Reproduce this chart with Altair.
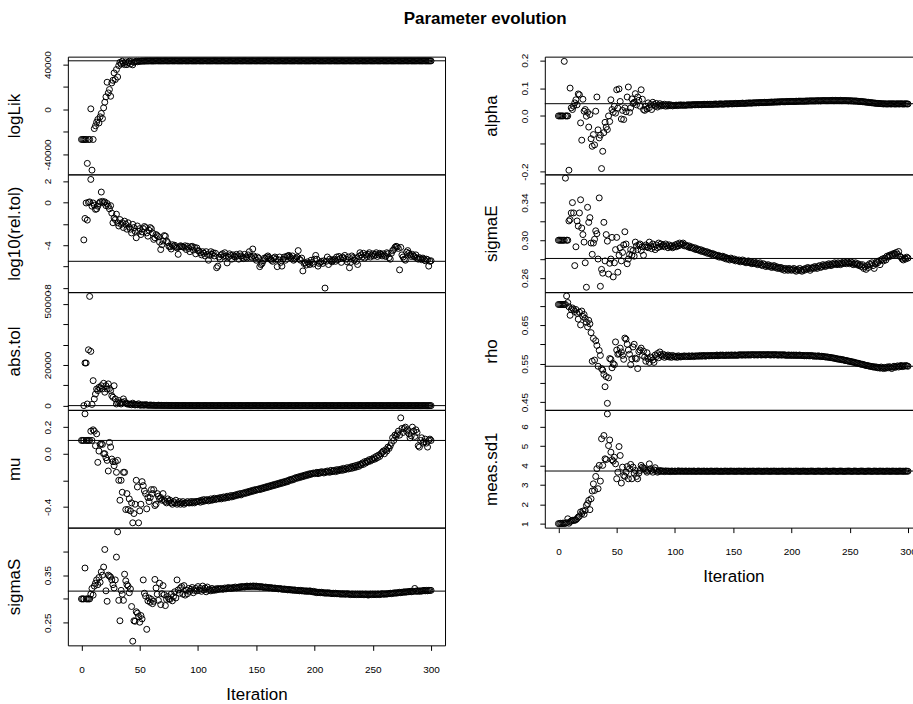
import altair as alt
import pandas as pd

FONT = "Liberation Sans"
TITLE = "Parameter evolution"
X_TITLE = "Iteration"
X_TICKS = [0, 50, 100, 150, 200, 250, 300]

# ---------------- data, index = iteration ----------------
loglik_start = 0
loglik = [
    -26700, -26700, -26700, -26700, -26700, -48000, -26700, -26700, 600, -54000,
    -26700, -17000, -14500, -11300, -8900, -12000, -6500, -3500, -8000, 1500,
    6500, 11300, 24300, 14800, 17800, 11800, 23700, 26000, 32600, 26700,
    35600, 29000, 39100, 42000, 40500, 43000, 41500, 40000, 42500, 40000,
    41800, 43000, 40500, 42800, 39800, 42000, 42600, 43000, 42500, 43000,
    42900, 43100, 43200, 43100, 43200, 43200, 43300, 43200, 43300, 43300,
    43300, 43200, 43300, 43300, 43300, 43400, 43300, 43300, 43300, 43300,
    43300, 43300, 43400, 43300, 43300, 43300, 43300, 43400, 43300, 43300,
    43300, 43400, 43300, 43300, 43300, 43300, 43300, 43300, 43400, 43300,
    43300, 43300, 43300, 43400, 43300, 43300, 43300, 43300, 43300, 43300,
    43400, 43300, 43300, 43300, 43300, 43300, 43400, 43300, 43300, 43300,
    43300, 43300, 43300, 43300, 43400, 43300, 43300, 43300, 43300, 43300,
    43300, 43400, 43300, 43300, 43300, 43300, 43300, 43300, 43400, 43300,
    43300, 43300, 43300, 43300, 43300, 43400, 43300, 43300, 43300, 43300,
    43400, 43300, 43300, 43300, 43300, 43300, 43300, 43400, 43300, 43300,
    43300, 43300, 43400, 43300, 43300, 43300, 43300, 43300, 43300, 43400,
    43300, 43300, 43300, 43300, 43400, 43300, 43300, 43300, 43300, 43300,
    43300, 43400, 43300, 43300, 43300, 43300, 43300, 43400, 43300, 43300,
    43300, 43300, 43300, 43300, 43400, 43300, 43300, 43300, 43300, 43300,
    43400, 43300, 43300, 43300, 43300, 43300, 43300, 43300, 43400, 43300,
    43300, 43300, 43400, 43300, 43300, 43300, 43300, 43300, 43300, 43300,
    43300, 43400, 43300, 43300, 43300, 43300, 43400, 43300, 43300, 43300,
    43300, 43300, 43300, 43400, 43300, 43300, 43300, 43300, 43300, 43400,
    43300, 43300, 43300, 43300, 43300, 43400, 43300, 43300, 43300, 43300,
    43400, 43300, 43300, 43300, 43300, 43300, 43300, 43400, 43300, 43300,
    43300, 43300, 43300, 43400, 43300, 43300, 43300, 43300, 43400, 43300,
    43300, 43300, 43300, 43300, 43300, 43400, 43300, 43300, 43300, 43300,
    43300, 43400, 43300, 43300, 43300, 43300, 43300, 43300, 43400, 43300,
    43300, 43300, 43400, 43300, 43300, 43300, 43300, 43300, 43300, 43400,
    43300, 43300, 43300, 43300, 43400, 43300, 43300, 43300, 43300, 43300,
    43300,
]

reltol_start = 2
log10_reltol = [
    -3.5, -1.5, -0.05, -1.65, 0.0, 0.05, 2.15, -0.35, -0.05, -0.25,
    -0.65, -0.6, -0.35, -0.1, 0.05, 0.97, 0.1, -0.05, 0.05, -0.3,
    -0.1, -0.35, -0.6, -0.3, -1.0, -1.9, -1.45, -1.6, -1.1, -1.9,
    -2.2, -1.6, -2.05, -1.9, -2.35, -1.75, -2.05, -2.5, -1.9, -2.3,
    -2.5, -2.85, -2.05, -2.35, -2.7, -3.3, -2.2, -2.7, -2.45, -3.0,
    -2.75, -2.45, -2.25, -2.35, -2.85, -3.15, -2.6, -2.35, -2.45, -2.85,
    -3.45, -3.3, -3.0, -3.1, -3.2, -3.7, -4.4, -3.95, -3.6, -3.1,
    -3.15, -3.6, -3.75, -4.1, -4.15, -4.35, -3.95, -4.1, -4.0, -4.15,
    -4.25, -4.85, -4.15, -4.05, -4.1, -4.15, -4.2, -4.05, -4.4, -4.1,
    -4.3, -4.6, -4.15, -4.1, -4.45, -4.2, -4.8, -4.25, -4.5,
    -4.55, -4.7, -4.9, -4.6, -4.75, -5.0, -4.6, -4.85, -5.4, -4.95,
    -4.6, -4.85, -4.7, -5.0, -4.75, -6.1, -5.95, -5.1, -5.3, -4.9,
    -4.8, -5.05, -4.7, -5.0, -5.65, -5.1, -4.8, -4.95, -5.3, -4.9,
    -5.05, -5.1, -4.85, -5.0, -5.3, -4.8, -5.0, -5.15, -5.25, -4.85,
    -5.1, -5.2, -4.9, -4.6, -5.05, -5.15, -4.35, -5.0, -5.15, -5.4,
    -5.1, -5.2, -6.0, -5.8, -5.7, -5.45, -5.2, -5.25, -5.1, -5.0,
    -5.15, -5.3, -5.4, -5.5, -5.2, -5.1, -5.3, -6.0, -5.35, -5.1,
    -5.6, -5.95, -5.3, -5.1, -5.4, -5.05, -5.0, -4.95, -5.1, -5.2,
    -5.0, -5.4, -5.3, -5.2, -5.1, -4.5, -5.3, -5.4, -5.2, -6.4,
    -5.7, -5.65, -5.85, -5.55, -5.7, -5.8, -5.4, -5.6, -5.75, -5.3,
    -4.95, -5.3, -5.95, -5.7, -5.6, -5.5, -5.7, -5.45, -8.0, -5.5,
    -5.1, -5.8, -5.3, -5.45, -5.55, -5.4, -5.3, -5.5, -5.1, -5.35,
    -5.05, -5.25, -5.6, -5.1, -5.2, -4.95, -5.3, -5.55, -5.1, -6.1,
    -5.6, -5.0, -5.15, -5.4, -5.2, -5.5, -5.8, -5.05, -4.7, -4.9,
    -5.1, -4.75, -5.2, -4.9, -5.05, -4.85, -4.7, -5.1, -4.95, -4.8,
    -5.0, -4.85, -4.7, -5.05, -4.9, -4.75, -4.85, -5.0, -4.8, -4.95,
    -5.05, -4.7, -4.8, -5.15, -5.3, -4.75, -4.5, -4.4, -4.2, -4.1,
    -4.15, -4.3, -6.3, -4.2, -4.9, -5.1, -5.3, -5.4, -4.65, -4.5,
    -4.75, -4.9, -5.05, -4.85, -5.0, -5.1, -4.9, -5.2, -5.3, -5.15,
    -5.25, -5.35, -5.2, -5.3, -5.45, -5.3, -5.35, -5.95, -5.5, -5.45,
]

abstol_start = 2
abs_tol = [
    0, 21000, 21000, 800, 27500, 53800, 26700, 600, 12300, 3300,
    5700, 8200, 7400, 9000, 8400, 9800, 8200, 11000, 6600, 9800,
    8200, 10700, 8400, 7400, 4900, 4100, 9800, 3300, 800, 1600,
    2500, 1300, 800, 1600, 3300, 2000, 1300, 800, 900, 600,
    700, 400, 1200, 600, 300, 500, 400, 900, 300, 200,
    400, 300, 200, 500, 300, 200, 150, 300, 200, 100,
    200, 150, 100, 120, 200, 90, 80, 150, 100, 70,
    60, 90, 50, 70, 40, 60, 50, 40, 30, 50,
    40, 30, 40, 25, 30, 20, 30, 25, 20, 15,
    20, 15, 12, 18, 10, 14, 10, 12, 8,
    9, 7, 11, 6, 8, 5, 7, 9, 4, 6,
    5, 8, 4, 6, 7, 3, 5, 6, 4, 5,
    6, 4, 5, 3, 6, 4, 5, 7, 3, 4,
    5, 3, 4, 6, 3, 5, 4, 3, 5, 4,
    3, 5, 4, 3, 4, 5, 3, 4, 3, 5,
    4, 3, 4, 3, 5, 3, 4, 3, 4, 3,
    4, 3, 3, 4, 3, 4, 3, 3, 4, 3,
    3, 4, 3, 3, 4, 3, 3, 4, 3, 3,
    4, 3, 3, 3, 4, 3, 3, 4, 3, 3,
    3, 4, 3, 3, 3, 4, 3, 3, 3, 4,
    3, 3, 4, 3, 3, 3, 4, 3, 3, 3,
    4, 3, 3, 3, 4, 3, 3, 3, 3, 4,
    3, 3, 3, 4, 3, 3, 3, 4, 3, 3,
    3, 4, 3, 3, 3, 3, 4, 3, 3, 3,
    4, 3, 3, 3, 3, 4, 3, 3, 3, 3,
    3, 4, 3, 3, 3, 3, 4, 3, 3, 3,
    3, 3, 4, 3, 3, 3, 3, 4, 3, 3,
    3, 3, 3, 4, 3, 3, 3, 3, 4, 3,
    3, 3, 3, 3, 4, 3, 3, 3, 3, 4,
    3, 3, 3, 3, 3, 4, 3, 3, 3, 3,
]

mu_start = 0
mu = [
    0.1, 0.1, 0.1, 0.3, 0.1, 0.1, 0.1, 0.1, 0.17, 0.1,
    0.18, 0.17, 0.06, 0.15, -0.065, 0.02, 0.07, 0.075, 0.07, 0.0,
    0.0, -0.03, -0.05, -0.13, 0.085, 0.05, -0.04, -0.06, -0.09, -0.06,
    -0.14, -0.05, -0.2, -0.35, -0.2, -0.29, -0.14, -0.14, -0.42, -0.3,
    -0.42, -0.34, -0.43, -0.37, -0.52, -0.45, -0.38, -0.2, -0.25, -0.52,
    -0.43, -0.38, -0.21, -0.24, -0.28, -0.3, -0.415, -0.33, -0.36, -0.33,
    -0.27, -0.3, -0.27, -0.39, -0.38, -0.3, -0.32, -0.34, -0.33, -0.35,
    -0.3, -0.35, -0.36, -0.37, -0.34, -0.36, -0.35, -0.37, -0.38, -0.36,
    -0.37, -0.35, -0.38, -0.37, -0.36, -0.38, -0.37, -0.36, -0.38, -0.37,
    -0.37, -0.36, -0.37, -0.37, -0.36, -0.37, -0.36, -0.37, -0.36, -0.36,
    -0.36, -0.355, -0.365, -0.35, -0.36, -0.345, -0.355, -0.35, -0.345, -0.355,
    -0.35, -0.34, -0.35, -0.345, -0.335, -0.345, -0.34, -0.335, -0.34, -0.33,
    -0.34, -0.33, -0.325, -0.335, -0.33, -0.32, -0.33, -0.325, -0.315, -0.325,
    -0.315, -0.32, -0.31, -0.315, -0.305, -0.31, -0.3, -0.31, -0.3, -0.295,
    -0.3, -0.29, -0.295, -0.285, -0.29, -0.28, -0.285, -0.275, -0.28, -0.27,
    -0.275, -0.27, -0.265, -0.27, -0.26, -0.265, -0.255, -0.26, -0.25, -0.255,
    -0.245, -0.25, -0.24, -0.245, -0.235, -0.24, -0.23, -0.235, -0.225, -0.23,
    -0.22, -0.225, -0.215, -0.22, -0.21, -0.215, -0.205, -0.21, -0.2, -0.195,
    -0.2, -0.19, -0.195, -0.185, -0.18, -0.185, -0.175, -0.18, -0.17, -0.175,
    -0.165, -0.17, -0.16, -0.165, -0.155, -0.16, -0.15, -0.155, -0.15, -0.145,
    -0.15, -0.145, -0.14, -0.15, -0.14, -0.145, -0.135, -0.14, -0.145, -0.135,
    -0.14, -0.13, -0.135, -0.14, -0.125, -0.135, -0.13, -0.125, -0.135, -0.12,
    -0.13, -0.12, -0.125, -0.115, -0.125, -0.11, -0.12, -0.115, -0.105, -0.115,
    -0.11, -0.1, -0.11, -0.095, -0.105, -0.09, -0.1, -0.085, -0.095, -0.08,
    -0.085, -0.07, -0.08, -0.06, -0.07, -0.055, -0.06, -0.045, -0.055, -0.04,
    -0.045, -0.03, -0.04, -0.02, -0.03, -0.01, -0.02, 0.0, 0.01, 0.02,
    0.0, 0.03, 0.02, 0.05, 0.04, 0.06, 0.08, 0.12, 0.1, 0.14,
    0.13, 0.15, 0.17, 0.14, 0.27, 0.19, 0.16, 0.19, 0.2, 0.17,
    0.18, 0.15, 0.12, 0.135, 0.2, 0.17, 0.13, 0.18, 0.16, 0.06,
    0.05, 0.1, 0.12, 0.08, 0.09, 0.11, 0.08, 0.05, 0.1, 0.11,
    0.1,
]

sigmaS_start = 0
sigmaS = [
    0.3, 0.3, 0.3, 0.365, 0.3, 0.3, 0.3, 0.3, 0.31, 0.322,
    0.308, 0.327, 0.333, 0.34, 0.33, 0.345, 0.335, 0.357, 0.35, 0.367,
    0.404, 0.317, 0.295, 0.35, 0.348, 0.346, 0.34, 0.33, 0.323, 0.34,
    0.388, 0.441, 0.297, 0.254, 0.318, 0.31, 0.297, 0.352, 0.338, 0.33,
    0.327, 0.313, 0.321, 0.284, 0.211, 0.254, 0.253, 0.273, 0.27, 0.263,
    0.251, 0.265, 0.258, 0.34, 0.312, 0.306, 0.236, 0.296, 0.302, 0.293,
    0.299, 0.29, 0.295, 0.341, 0.323, 0.31, 0.297, 0.333, 0.288, 0.311,
    0.328, 0.309, 0.286, 0.299, 0.305, 0.3, 0.299, 0.31, 0.296, 0.305,
    0.315, 0.302, 0.34, 0.319, 0.312, 0.323, 0.326, 0.31, 0.328, 0.308,
    0.318, 0.311, 0.322, 0.316, 0.32, 0.324, 0.313, 0.318, 0.322, 0.317,
    0.326, 0.318, 0.322, 0.316, 0.327, 0.319, 0.323, 0.315, 0.325, 0.318,
    0.32, 0.317, 0.322, 0.319, 0.318, 0.321, 0.319, 0.322, 0.32, 0.321,
    0.322, 0.32, 0.321, 0.323, 0.321, 0.322, 0.324, 0.322, 0.323, 0.322,
    0.324, 0.323, 0.325, 0.323, 0.324, 0.325, 0.324, 0.326, 0.325, 0.326,
    0.325, 0.326, 0.327, 0.326, 0.326, 0.327, 0.326, 0.327, 0.327, 0.326,
    0.327, 0.326, 0.326, 0.325, 0.326, 0.325, 0.325, 0.324, 0.325, 0.324,
    0.324, 0.323, 0.324, 0.323, 0.323, 0.322, 0.323, 0.322, 0.322, 0.321,
    0.322, 0.321, 0.321, 0.32, 0.321, 0.32, 0.32, 0.319, 0.32, 0.319,
    0.319, 0.319, 0.318, 0.319, 0.318, 0.318, 0.318, 0.317, 0.318, 0.317,
    0.317, 0.317, 0.316, 0.317, 0.316, 0.316, 0.317, 0.316, 0.315, 0.316,
    0.314, 0.315, 0.313, 0.314, 0.314, 0.313, 0.314, 0.313, 0.313, 0.312,
    0.313, 0.312, 0.313, 0.312, 0.312, 0.311, 0.312, 0.311, 0.312, 0.311,
    0.311, 0.311, 0.31, 0.311, 0.31, 0.311, 0.31, 0.31, 0.311, 0.31,
    0.31, 0.309, 0.31, 0.31, 0.309, 0.31, 0.309, 0.31, 0.309, 0.31,
    0.309, 0.31, 0.309, 0.309, 0.31, 0.309, 0.308, 0.309, 0.31, 0.309,
    0.31, 0.309, 0.31, 0.309, 0.31, 0.31, 0.309, 0.31, 0.311, 0.31,
    0.31, 0.311, 0.31, 0.311, 0.311, 0.312, 0.311, 0.312, 0.312, 0.313,
    0.312, 0.313, 0.313, 0.314, 0.313, 0.314, 0.314, 0.315, 0.314, 0.315,
    0.315, 0.315, 0.316, 0.315, 0.316, 0.316, 0.322, 0.316, 0.317, 0.316,
    0.317, 0.316, 0.317, 0.317, 0.318, 0.317, 0.318, 0.317, 0.318, 0.318,
    0.318,
]

alpha_start = 0
alpha_ = [
    0.0, 0.0, 0.0, 0.0, 0.0, 0.196, 0.0, 0.0, 0.0, -0.195,
    0.1, 0.029, 0.023, 0.035, 0.047, 0.058, 0.04, 0.079, 0.076, -0.025,
    -0.087, 0.06, 0.017, 0.023, -0.001, 0.013, -0.04, 0.005, -0.082, -0.109,
    -0.067, -0.104, 0.017, 0.068, -0.05, -0.079, -0.069, -0.189, -0.127, -0.06,
    -0.023, -0.04, -0.049, 0.0, -0.02, 0.058, 0.023, 0.013, 0.035, 0.01,
    0.094, 0.028, 0.097, 0.052, -0.011, 0.02, -0.013, 0.029, 0.015, 0.068,
    0.104, 0.013, 0.029, 0.061, 0.045, 0.049, 0.08, 0.04, 0.068, 0.056,
    0.035, 0.094, 0.06, 0.023, 0.02, 0.035, 0.025, 0.047, 0.03, 0.041,
    0.023, 0.049, 0.041, 0.035, 0.045, 0.032, 0.038, 0.044, 0.036, 0.04,
    0.037, 0.042, 0.035, 0.04, 0.036, 0.041, 0.037, 0.039, 0.036, 0.038,
    0.038, 0.039, 0.037, 0.039, 0.038, 0.04, 0.038, 0.039, 0.039, 0.038,
    0.039, 0.04, 0.039, 0.04, 0.039, 0.04, 0.041, 0.04, 0.04, 0.041,
    0.04, 0.041, 0.041, 0.04, 0.041, 0.042, 0.041, 0.041, 0.042, 0.041,
    0.042, 0.042, 0.041, 0.042, 0.042, 0.043, 0.042, 0.042, 0.043, 0.043,
    0.043, 0.042, 0.043, 0.043, 0.044, 0.043, 0.043, 0.044, 0.044, 0.043,
    0.044, 0.044, 0.045, 0.044, 0.044, 0.045, 0.045, 0.045, 0.046, 0.045,
    0.045, 0.046, 0.046, 0.046, 0.047, 0.046, 0.046, 0.047, 0.047, 0.047,
    0.047, 0.048, 0.047, 0.048, 0.048, 0.048, 0.048, 0.049, 0.048, 0.049,
    0.049, 0.049, 0.049, 0.05, 0.049, 0.05, 0.05, 0.05, 0.05, 0.051,
    0.05, 0.051, 0.051, 0.051, 0.051, 0.051, 0.052, 0.051, 0.052, 0.052,
    0.052, 0.052, 0.052, 0.052, 0.053, 0.052, 0.053, 0.053, 0.053, 0.053,
    0.053, 0.053, 0.053, 0.054, 0.053, 0.054, 0.054, 0.054, 0.054, 0.054,
    0.054, 0.054, 0.055, 0.054, 0.055, 0.054, 0.055, 0.055, 0.055, 0.055,
    0.055, 0.055, 0.055, 0.055, 0.055, 0.056, 0.055, 0.055, 0.056, 0.055,
    0.055, 0.055, 0.056, 0.055, 0.055, 0.055, 0.055, 0.055, 0.055, 0.054,
    0.055, 0.054, 0.054, 0.054, 0.053, 0.054, 0.053, 0.053, 0.052, 0.052,
    0.052, 0.051, 0.051, 0.05, 0.05, 0.049, 0.049, 0.048, 0.048, 0.047,
    0.047, 0.046, 0.046, 0.045, 0.045, 0.045, 0.044, 0.044, 0.044, 0.043,
    0.044, 0.043, 0.043, 0.043, 0.044, 0.043, 0.043, 0.044, 0.043, 0.043,
    0.043, 0.044, 0.043, 0.043, 0.044, 0.043, 0.043, 0.043, 0.044, 0.043,
    0.043,
]

sigmaE_start = 0
sigmaE = [
    0.3, 0.3, 0.3, 0.3, 0.3, 0.3, 0.366, 0.3, 0.3, 0.3205,
    0.322, 0.329, 0.34, 0.329, 0.273, 0.293, 0.3205, 0.315, 0.329, 0.343,
    0.313, 0.306, 0.298, 0.276, 0.25, 0.335, 0.319, 0.324, 0.297, 0.285,
    0.297, 0.301, 0.31, 0.307, 0.28, 0.345, 0.251, 0.269, 0.265, 0.319,
    0.278, 0.306, 0.299, 0.264, 0.2755, 0.28, 0.303, 0.261, 0.276, 0.29,
    0.303, 0.266, 0.284, 0.292, 0.278, 0.287, 0.295, 0.309, 0.296, 0.275,
    0.28, 0.285, 0.29, 0.284, 0.289, 0.283, 0.298, 0.294, 0.29, 0.295,
    0.296, 0.289, 0.293, 0.284, 0.293, 0.295, 0.293, 0.292, 0.298, 0.294,
    0.291, 0.296, 0.293, 0.29, 0.295, 0.292, 0.297, 0.293, 0.296, 0.294,
    0.295, 0.293, 0.296, 0.294, 0.292, 0.295, 0.293, 0.294, 0.292, 0.293,
    0.295, 0.293, 0.296, 0.294, 0.297, 0.295, 0.296, 0.297, 0.294, 0.295,
    0.294, 0.293, 0.294, 0.292, 0.293, 0.292, 0.291, 0.292, 0.29, 0.291,
    0.29, 0.289, 0.29, 0.288, 0.289, 0.288, 0.287, 0.288, 0.286, 0.287,
    0.286, 0.285, 0.286, 0.284, 0.285, 0.284, 0.283, 0.284, 0.282, 0.283,
    0.282, 0.283, 0.281, 0.282, 0.28, 0.281, 0.28, 0.279, 0.281, 0.28,
    0.279, 0.28, 0.278, 0.279, 0.278, 0.279, 0.277, 0.278, 0.279, 0.277,
    0.278, 0.276, 0.277, 0.278, 0.276, 0.277, 0.275, 0.276, 0.277, 0.275,
    0.276, 0.274, 0.275, 0.276, 0.274, 0.273, 0.275, 0.274, 0.272, 0.273,
    0.274, 0.272, 0.273, 0.271, 0.272, 0.273, 0.271, 0.272, 0.27, 0.271,
    0.27, 0.271, 0.269, 0.27, 0.268, 0.27, 0.269, 0.268, 0.27, 0.269,
    0.268, 0.269, 0.27, 0.268, 0.267, 0.269, 0.268, 0.27, 0.268, 0.267,
    0.269, 0.268, 0.27, 0.269, 0.271, 0.27, 0.268, 0.27, 0.271, 0.27,
    0.272, 0.271, 0.27, 0.272, 0.273, 0.271, 0.272, 0.274, 0.273, 0.272,
    0.274, 0.273, 0.275, 0.274, 0.273, 0.275, 0.274, 0.276, 0.275, 0.274,
    0.276, 0.275, 0.274, 0.276, 0.275, 0.277, 0.276, 0.275, 0.277, 0.276,
    0.275, 0.277, 0.276, 0.274, 0.275, 0.276, 0.274, 0.275, 0.273, 0.274,
    0.272, 0.274, 0.27, 0.272, 0.269, 0.273, 0.271, 0.275, 0.274, 0.276,
    0.273, 0.27, 0.275, 0.277, 0.276, 0.278, 0.274, 0.279, 0.28, 0.278,
    0.281, 0.279, 0.283, 0.282, 0.284, 0.283, 0.285, 0.284, 0.286, 0.285,
    0.287, 0.285, 0.288, 0.283, 0.282, 0.28, 0.279, 0.281, 0.28, 0.282,
    0.281,
]

rho_start = 0
rho = [
    0.703, 0.703, 0.703, 0.703, 0.703, 0.703, 0.703, 0.725, 0.708, 0.697,
    0.675, 0.69, 0.694, 0.69, 0.685, 0.69, 0.68, 0.665, 0.683, 0.65,
    0.686, 0.672, 0.677, 0.667, 0.657, 0.645, 0.662, 0.653, 0.63, 0.556,
    0.615, 0.559, 0.609, 0.597, 0.543, 0.584, 0.571, 0.537, 0.533, 0.522,
    0.49, 0.516, 0.447, 0.513, 0.563, 0.561, 0.539, 0.55, 0.547, 0.606,
    0.585, 0.574, 0.576, 0.59, 0.58, 0.571, 0.561, 0.616, 0.613, 0.6,
    0.585, 0.574, 0.547, 0.562, 0.593, 0.6, 0.564, 0.562, 0.537, 0.581,
    0.585, 0.59, 0.571, 0.582, 0.567, 0.556, 0.578, 0.562, 0.553, 0.567,
    0.565, 0.559, 0.553, 0.572, 0.568, 0.576, 0.565, 0.58, 0.573, 0.569,
    0.574, 0.566, 0.571, 0.568, 0.572, 0.567, 0.57, 0.566, 0.571, 0.568,
    0.567, 0.569, 0.566, 0.57, 0.568, 0.567, 0.569, 0.568, 0.57, 0.568,
    0.569, 0.568, 0.57, 0.568, 0.569, 0.57, 0.568, 0.569, 0.57, 0.569,
    0.57, 0.569, 0.571, 0.569, 0.57, 0.571, 0.569, 0.57, 0.571, 0.57,
    0.57, 0.571, 0.57, 0.571, 0.57, 0.571, 0.572, 0.57, 0.571, 0.572,
    0.571, 0.572, 0.571, 0.571, 0.572, 0.571, 0.572, 0.571, 0.572, 0.572,
    0.571, 0.572, 0.572, 0.571, 0.572, 0.572, 0.573, 0.572, 0.572, 0.573,
    0.572, 0.572, 0.573, 0.572, 0.573, 0.572, 0.573, 0.573, 0.572, 0.573,
    0.573, 0.572, 0.573, 0.573, 0.572, 0.573, 0.573, 0.573, 0.572, 0.573,
    0.573, 0.573, 0.572, 0.573, 0.573, 0.572, 0.573, 0.573, 0.572, 0.572,
    0.573, 0.572, 0.572, 0.573, 0.572, 0.572, 0.571, 0.572, 0.572, 0.571,
    0.572, 0.571, 0.572, 0.571, 0.572, 0.571, 0.571, 0.572, 0.571, 0.571,
    0.571, 0.57, 0.571, 0.57, 0.571, 0.57, 0.57, 0.571, 0.57, 0.569,
    0.57, 0.569, 0.569, 0.57, 0.569, 0.568, 0.569, 0.568, 0.568, 0.567,
    0.567, 0.567, 0.566, 0.566, 0.565, 0.565, 0.564, 0.564, 0.563, 0.562,
    0.562, 0.561, 0.561, 0.56, 0.56, 0.559, 0.558, 0.558, 0.557, 0.556,
    0.556, 0.555, 0.554, 0.554, 0.553, 0.552, 0.551, 0.551, 0.55, 0.549,
    0.548, 0.548, 0.547, 0.546, 0.545, 0.545, 0.544, 0.543, 0.543, 0.542,
    0.541, 0.542, 0.54, 0.541, 0.539, 0.54, 0.538, 0.541, 0.539, 0.537,
    0.54, 0.538, 0.541, 0.539, 0.542, 0.54, 0.537, 0.541, 0.543, 0.54,
    0.542, 0.544, 0.541, 0.543, 0.545, 0.542, 0.544, 0.543, 0.545, 0.544,
    0.543,
]

meas_start = 0
meas_sd1 = [
    1.0, 1.0, 1.02, 1.0, 1.03, 1.0, 1.02, 1.05, 1.25, 1.02,
    1.09, 1.14, 1.17, 1.17, 1.17, 1.2, 1.26, 1.34, 1.38, 1.6,
    1.51, 1.65, 1.48, 1.68, 1.94, 2.03, 2.2, 1.72, 2.28, 2.68,
    3.05, 2.71, 3.43, 3.83, 2.8, 4.0, 3.19, 5.37, 4.0, 5.54,
    4.34, 4.3, 6.65, 5.02, 5.31, 4.68, 4.29, 4.22, 4.42, 4.08,
    3.31, 3.65, 4.97, 4.51, 3.09, 3.91, 3.48, 3.43, 3.65, 3.94,
    3.31, 3.83, 4.05, 3.31, 3.91, 3.6, 3.74, 3.43, 3.31, 3.6,
    3.74, 4.0, 3.91, 3.86, 3.83, 3.74, 3.65, 3.74, 4.08, 3.83,
    3.74, 3.65, 3.77, 3.88, 3.74, 3.65, 3.69, 3.74, 3.69, 3.72,
    3.7, 3.68, 3.72, 3.69, 3.71, 3.7, 3.68, 3.71, 3.7, 3.69,
    3.71, 3.69, 3.7, 3.72, 3.69, 3.7, 3.71, 3.7, 3.69, 3.71,
    3.7, 3.69, 3.71, 3.7, 3.7, 3.69, 3.71, 3.7, 3.69, 3.7,
    3.71, 3.7, 3.69, 3.7, 3.7, 3.71, 3.69, 3.7, 3.7, 3.69,
    3.7, 3.71, 3.7, 3.69, 3.7, 3.7, 3.71, 3.7, 3.69, 3.7,
    3.7, 3.69, 3.7, 3.71, 3.7, 3.7, 3.69, 3.7, 3.71, 3.7,
    3.7, 3.7, 3.69, 3.7, 3.7, 3.71, 3.7, 3.7, 3.69, 3.7,
    3.71, 3.7, 3.7, 3.69, 3.7, 3.7, 3.7, 3.71, 3.7, 3.69,
    3.7, 3.7, 3.71, 3.7, 3.7, 3.69, 3.7, 3.7, 3.7, 3.71,
    3.7, 3.69, 3.7, 3.7, 3.7, 3.71, 3.7, 3.7, 3.69, 3.7,
    3.7, 3.7, 3.71, 3.7, 3.69, 3.7, 3.7, 3.7, 3.71, 3.7,
    3.7, 3.69, 3.7, 3.7, 3.71, 3.7, 3.7, 3.69, 3.7, 3.7,
    3.71, 3.7, 3.7, 3.69, 3.7, 3.7, 3.7, 3.71, 3.7, 3.7,
    3.69, 3.7, 3.7, 3.71, 3.7, 3.7, 3.69, 3.7, 3.7, 3.7,
    3.71, 3.7, 3.69, 3.7, 3.7, 3.7, 3.71, 3.7, 3.7, 3.69,
    3.7, 3.7, 3.71, 3.7, 3.7, 3.69, 3.7, 3.7, 3.7, 3.71,
    3.7, 3.7, 3.69, 3.7, 3.71, 3.7, 3.7, 3.69, 3.7, 3.7,
    3.71, 3.7, 3.7, 3.69, 3.7, 3.7, 3.71, 3.7, 3.7, 3.69,
    3.7, 3.71, 3.7, 3.7, 3.69, 3.7, 3.71, 3.7, 3.7, 3.7,
    3.69, 3.7, 3.71, 3.7, 3.7, 3.69, 3.7, 3.71, 3.7, 3.7,
    3.7, 3.69, 3.7, 3.71, 3.7, 3.7, 3.7, 3.69, 3.71, 3.7,
    3.7,
]

# reference (horizontal) lines
hlines = {
    "logLik": 43400, "log10(rel.tol)": -5.5, "abs.tol": 0, "mu": 0.1, "sigmaS": 0.3164,
    "alpha": 0.044, "sigmaE": 0.2806, "rho": 0.543, "meas.sd1": 3.71,
}

# axis ticks (all ticks) and the subset that carries a label
ticks = {
    "logLik": ([-40000, -20000, 0, 20000, 40000], [-40000, 0, 40000], ["-40000", "0", "40000"]),
    "log10(rel.tol)": ([-8, -6, -4, -2, 0, 2], [-8, -4, 0, 2], ["-8", "-4", "0", "2"]),
    "abs.tol": ([0, 10000, 20000, 30000, 40000, 50000], [0, 20000, 50000], ["0", "20000", "50000"]),
    "mu": ([-0.4, -0.2, 0.0, 0.2], [-0.4, 0.0, 0.2], ["-0.4", "0.0", "0.2"]),
    "sigmaS": ([0.25, 0.3, 0.35, 0.4], [0.25, 0.35], ["0.25", "0.35"]),
    "alpha": ([-0.2, -0.1, 0.0, 0.1, 0.2], [-0.2, 0.0, 0.1, 0.2], ["-0.2", "0.0", "0.1", "0.2"]),
    "sigmaE": ([0.26, 0.28, 0.3, 0.32, 0.34, 0.36], [0.26, 0.3, 0.34], ["0.26", "0.30", "0.34"]),
    "rho": ([0.45, 0.5, 0.55, 0.6, 0.65, 0.7], [0.45, 0.55, 0.65], ["0.45", "0.55", "0.65"]),
    "meas.sd1": ([1, 2, 3, 4, 5, 6], [1, 2, 3, 4, 5, 6], ["1", "2", "3", "4", "5", "6"]),
}

# y scale domains (plot-region limits)
domains = {
    "logLik": [-57800, 47100], "log10(rel.tol)": [-8.38, 2.62], "abs.tol": [-2100, 55900],
    "mu": [-0.556, 0.33], "sigmaS": [0.2023, 0.45], "alpha": [-0.21, 0.213],
    "sigmaE": [0.2448, 0.37], "rho": [0.43, 0.735], "meas.sd1": [0.795, 6.86],
}

XDOM = [-11.7, 312.0]
W, H = 378, 118


def label_expr(vals, labs):
    s = ""
    for v, l in zip(vals, labs):
        s += f"datum.value == {v} ? '{l}' : "
    return s + "''"


def panel(name, vals, start, bottom):
    df = pd.DataFrame({"iter": list(range(start, start + len(vals))), "value": vals})
    all_ticks, shown, labs = ticks[name]
    yenc = alt.Y(
        "value:Q",
        title=name,
        scale=alt.Scale(domain=domains[name], nice=False, zero=False),
        axis=alt.Axis(
            values=all_ticks, labelExpr=label_expr(shown, labs), labelAngle=270,
            labelAlign="center", labelBaseline="bottom", labelPadding=10,
            labelOverlap=False, titlePadding=19, tickSize=5, domain=False, grid=False,
        ),
    )
    if bottom:
        xaxis = alt.Axis(values=X_TICKS, labelAngle=0, labelPadding=14, tickSize=5,
                         titlePadding=12, domain=False, grid=False, labelFlush=False,
                         labelOverlap=False)
    else:
        xaxis = None
    xenc = alt.X("iter:Q", title=X_TITLE,
                 scale=alt.Scale(domain=XDOM, nice=False, zero=False), axis=xaxis)
    pts = alt.Chart(df).mark_point(
        shape="circle", filled=False, color="black", size=36, strokeWidth=1, opacity=1
    ).encode(x=xenc, y=yenc)
    rule = alt.Chart(pd.DataFrame({"value": [hlines[name]]})).mark_rule(
        color="black", strokeWidth=1
    ).encode(y=yenc)
    return alt.layer(pts, rule).properties(width=W, height=H)


# grid, two columns, row-major; the last row has only the left panel
cells = [
    panel("logLik", loglik, loglik_start, False),
    panel("alpha", alpha_, alpha_start, False),
    panel("log10(rel.tol)", log10_reltol, reltol_start, False),
    panel("sigmaE", sigmaE, sigmaE_start, False),
    panel("abs.tol", abs_tol, abstol_start, False),
    panel("rho", rho, rho_start, False),
    panel("mu", mu, mu_start, False),
    panel("meas.sd1", meas_sd1, meas_start, True),
    panel("sigmaS", sigmaS, sigmaS_start, True),
]

# the right column runs past the window edge, as in the original: negative right padding
chart = alt.concat(
    *cells, columns=2, spacing={"row": 0, "column": 100}, bounds="flush",
    padding={"left": 5, "top": 9, "right": -10, "bottom": 0},
).properties(
    title=alt.TitleParams(TITLE, font=FONT, fontSize=17, fontWeight="bold",
                          color="black", anchor="middle", offset=22, dx=21)
).configure(
    background="white"
).configure_view(
    stroke="black", strokeWidth=1
).configure_axis(
    labelFont=FONT, titleFont=FONT, labelFontSize=10, titleFontSize=17,
    titleFontWeight="normal", labelColor="black", titleColor="black",
    tickColor="black", tickWidth=1,
)

chart.save("out.html", embed_options={"renderer": "svg", "actions": False})
